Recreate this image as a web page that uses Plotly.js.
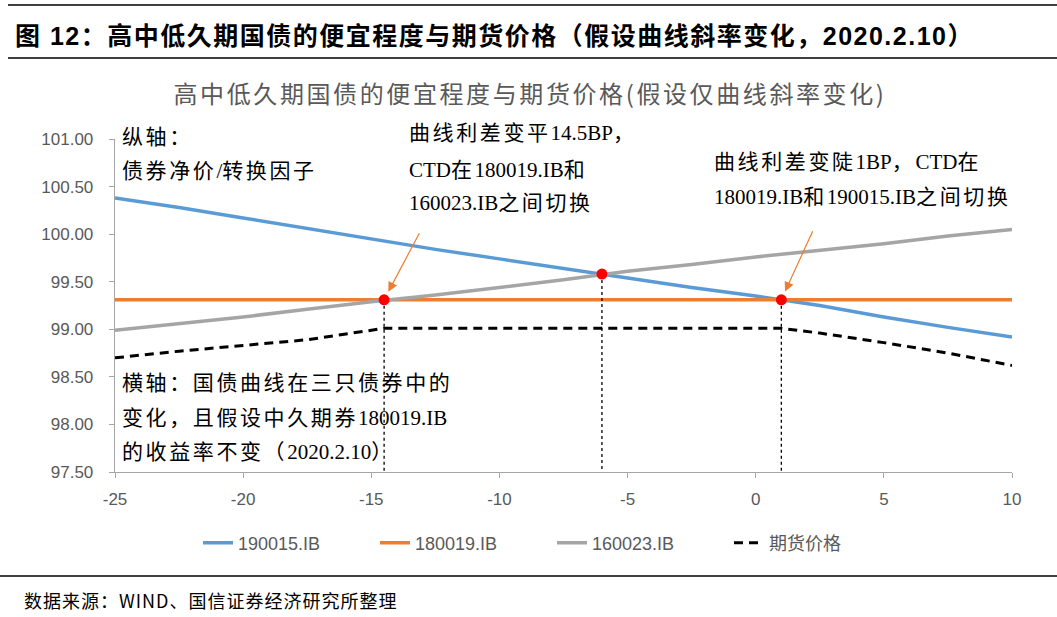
<!DOCTYPE html>
<html>
<head>
<meta charset="utf-8">
<script src="https://cdn.plot.ly/plotly-3.0.1.min.js"></script>
<style>
html,body{margin:0;padding:0;background:#fff;}
#chart{width:1057px;height:617px;}
</style>
</head>
<body>
<div id="chart"></div>
<script>
// ---- data ----
const curveShift = [-25, -22.5, -20, -17.5, -15, -12.5, -10, -7.5, -5, -2.5, 0, 2.5, 5, 7.5, 10];
const bond190015 = [100.38, 100.28, 100.17, 100.06, 99.95, 99.84, 99.74, 99.64, 99.54, 99.44, 99.35, 99.25, 99.13, 99.02, 98.92];
const bond180019 = [99.31, 99.31, 99.31, 99.31, 99.31, 99.31, 99.31, 99.31, 99.31, 99.31, 99.31, 99.31, 99.31, 99.31, 99.31];
const bond160023 = [98.99, 99.06, 99.13, 99.21, 99.29, 99.36, 99.44, 99.52, 99.61, 99.68, 99.76, 99.83, 99.90, 99.98, 100.05];
const futuresShift = [-25, -22.5, -20, -17.5, -14.5, 1, 2.5, 5, 7.5, 10];
const futuresPrice = [98.70, 98.77, 98.83, 98.89, 99.01, 99.01, 98.96, 98.86, 98.75, 98.62];
const switchShift = [-14.5, -6, 1];
const switchPrice = [99.31, 99.58, 99.31];
const seriesNames = ['190015.IB', '180019.IB', '160023.IB', '期货价格'];
const xTickVals = [-25, -20, -15, -10, -5, 0, 5, 10];
const xTickText = ['-25', '-20', '-15', '-10', '-5', '0', '5', '10'];
const yMin = 97.5, yMax = 101;

const serif = 'Liberation Serif, "Noto Sans CJK SC", serif';
const sans = '"Liberation Sans", "Noto Sans CJK SC", sans-serif';
const cjk = '"Noto Sans CJK SC", sans-serif';

const traces = [
  {x: curveShift, y: bond190015, name: seriesNames[0], mode: 'lines', line: {color: '#5B9BD5', width: 3.5}},
  {x: curveShift, y: bond180019, name: seriesNames[1], mode: 'lines', line: {color: '#ED7D31', width: 3.5}},
  {x: curveShift, y: bond160023, name: seriesNames[2], mode: 'lines', line: {color: '#A5A5A5', width: 3.5}},
  {x: futuresShift, y: futuresPrice, name: seriesNames[3], mode: 'lines', line: {color: '#000000', width: 3, dash: '9px,6px'}}
];
// dotted drop lines from each switch point to the x axis
switchShift.forEach((sx, i) => {
  traces.push({x: [sx, sx], y: [switchPrice[i], yMin], mode: 'lines', showlegend: false, hoverinfo: 'skip',
    line: {color: '#000000', width: 1.3, dash: 'dot'}});
});
traces.push({x: switchShift, y: switchPrice, mode: 'markers', showlegend: false,
  marker: {color: '#FF0000', size: 11}});

// pixel -> paper helpers (plot area: x 115..1012, y 139..472)
const px = p => (p - 115) / 897;
const py = p => (472 - p) / 333;

function sp(text, ls) {
  return '<span style="letter-spacing:' + ls + 'px">' + text + '</span>';
}
// letter-spacing only on CJK runs
function spc(text, ls) {
  return text.replace(/[\u3000-\u303f\u4e00-\u9fff\uff00-\uffef]+/g, m => sp(m, ls));
}

function txt(text, x, y, size, extra) {
  return Object.assign({xref: 'paper', yref: 'paper', x: px(x), y: py(y), xanchor: 'left', yanchor: 'middle',
    text: spc(text, 2.6), showarrow: false, font: {family: serif, size: size || 21, color: '#000'}}, extra || {});
}

const annotations = [
  txt('', 13, 36, 25, {text: '<b>' + sp('图 12：高中低久期国债的便宜程度与期货价格（假设曲线斜率变化，2020.2.10）', 1.5) + '</b>',
    font: {family: sans, size: 25, color: '#000'}}),
  txt('', 22, 600, 18, {text: sp('数据来源：WIND、国信证券经济研究所整理', 1), font: {family: cjk, size: 18, color: '#000'}}),
  txt('纵轴：', 120, 137),
  txt('债券净价/转换因子', 120, 171),
  txt('曲线利差变平14.5BP，', 407, 133),
  txt('CTD在180019.IB和', 407, 170),
  txt('160023.IB之间切换', 407, 203),
  txt('曲线利差变陡1BP，CTD在', 712, 162),
  txt('180019.IB和190015.IB之间切换', 712, 197),
  txt('横轴：国债曲线在三只债券中的', 120, 383),
  txt('变化，且假设中久期券180019.IB', 120, 418),
  txt('的收益率不变（2020.2.10）', 120, 452),
  // arrows
  {x: switchShift[0], y: switchPrice[0], xref: 'x', yref: 'y', ax: 36, ay: -68, text: '', showarrow: true,
    arrowhead: 2, arrowsize: 1.6, arrowwidth: 1.2, arrowcolor: '#ED7D31', standoff: 9},
  {x: switchShift[2], y: switchPrice[2], xref: 'x', yref: 'y', ax: 32, ay: -70, text: '', showarrow: true,
    arrowhead: 2, arrowsize: 1.6, arrowwidth: 1.2, arrowcolor: '#ED7D31', standoff: 9}
];

const shapes = [
  {type: 'line', xref: 'paper', yref: 'paper', x0: px(8), x1: px(1057), y0: py(5), y1: py(5), line: {color: '#000', width: 1.5}},
  {type: 'line', xref: 'paper', yref: 'paper', x0: px(8), x1: px(1057), y0: py(58), y1: py(58), line: {color: '#000', width: 1.5}},
  {type: 'line', xref: 'paper', yref: 'paper', x0: px(0), x1: px(1057), y0: py(576), y1: py(576), line: {color: '#000', width: 1.5}}
];

const layout = {
  width: 1057, height: 617,
  margin: {l: 115, r: 45, t: 139, b: 145},
  paper_bgcolor: '#fff', plot_bgcolor: '#fff',
  title: {text: sp('高中低久期国债的便宜程度与期货价格(假设仅曲线斜率变化)', 2.6), x: 530 / 1057, xanchor: 'center',
    y: 1 - 95 / 617, yanchor: 'middle', font: {family: cjk, size: 24, color: '#595959'}},
  xaxis: {range: [-25, 10], tickvals: xTickVals, ticktext: xTickText, showgrid: false, zeroline: false,
    showline: true, linecolor: '#A6A6A6', linewidth: 1.3, ticks: 'outside', ticklen: 5, tickcolor: '#A6A6A6',
    ticklabelstandoff: 6,
    tickfont: {family: sans, size: 17, color: '#595959'}},
  yaxis: {range: [yMin, yMax], dtick: 0.5, tickformat: '.2f', showgrid: false, zeroline: false,
    showline: true, linecolor: '#A6A6A6', linewidth: 1.3, ticks: 'outside', ticklen: 5, tickcolor: '#A6A6A6',
    ticklabelstandoff: 12,
    tickfont: {family: sans, size: 17, color: '#595959'}},
  showlegend: true,
  legend: {orientation: 'h', x: px(552), xanchor: 'center', y: py(543), yanchor: 'middle',
    font: {family: sans, size: 18, color: '#595959'}, entrywidth: 132, entrywidthmode: 'pixels', tracegroupgap: 0},
  annotations: annotations,
  shapes: shapes
};

Plotly.newPlot('chart', traces, layout, {displayModeBar: false, staticPlot: true});
</script>
</body>
</html>
